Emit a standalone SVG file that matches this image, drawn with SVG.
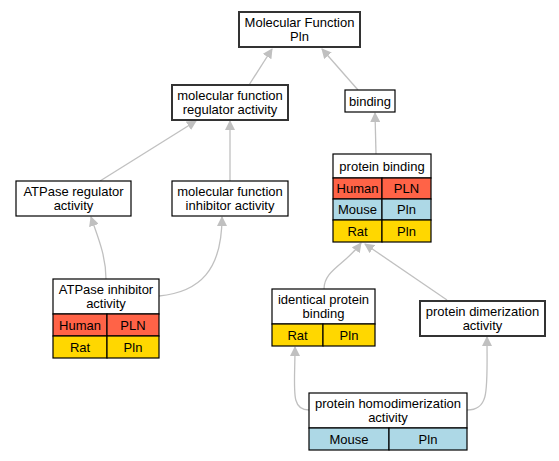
<svg xmlns="http://www.w3.org/2000/svg" width="559" height="461" viewBox="0 0 559 461">
<style>
text{font-family:"Liberation Sans",Arial,sans-serif;font-size:13px;text-anchor:middle;fill:#000}
.box{fill:#fff;stroke:#000;stroke-width:1.2}
.bold{fill:#fff;stroke:#333;stroke-width:2}
.h{fill:#ff6347;stroke:#000;stroke-width:1.2}
.m{fill:#add8e6;stroke:#000;stroke-width:1.2}
.r{fill:#ffd700;stroke:#000;stroke-width:1.2}
.e{fill:none;stroke:#c0c0c0;stroke-width:1.3}
</style>
<defs>
<marker id="a" viewBox="0 0 10 10" refX="9" refY="5" markerWidth="10" markerHeight="10" markerUnits="userSpaceOnUse" orient="auto">
<path d="M0,0 L10,5 L0,10 z" fill="#c0c0c0"/>
</marker>
</defs>
<g id="edges">
<path class="e" marker-end="url(#a)" d="M249,85 L272,49"/>
<path class="e" marker-end="url(#a)" d="M358,90 L322,49"/>
<path class="e" marker-end="url(#a)" d="M100,181 L196,121"/>
<path class="e" marker-end="url(#a)" d="M230,181 L230,121"/>
<path class="e" marker-end="url(#a)" d="M376,154 L375,113"/>
<path class="e" marker-end="url(#a)" d="M106,279 C106,255 97,235 91,217"/>
<path class="e" marker-end="url(#a)" d="M159,296 C200,292 222,270 222,217"/>
<path class="e" marker-end="url(#a)" d="M324,289 C324,270 345,265 361,243"/>
<path class="e" marker-end="url(#a)" d="M447,300 L365,244"/>
<path class="e" marker-end="url(#a)" d="M309,410 C290,410 295,390 295,347"/>
<path class="e" marker-end="url(#a)" d="M467,410 C490,410 487,390 487,337"/>
</g>
<g id="mf">
<rect class="bold" x="239" y="12" width="121" height="35"/>
<text x="299.5" y="27">Molecular Function</text>
<text x="299.5" y="41">Pln</text>
</g>
<g id="mfr">
<rect class="bold" x="172" y="85" width="116" height="35"/>
<text x="230" y="100">molecular function</text>
<text x="230" y="114">regulator activity</text>
</g>
<g id="binding">
<rect class="box" x="345" y="90" width="50" height="22"/>
<text x="370" y="105.5">binding</text>
</g>
<g id="atpr">
<rect class="box" x="16" y="181" width="115" height="35"/>
<text x="73.5" y="196">ATPase regulator</text>
<text x="73.5" y="210">activity</text>
</g>
<g id="mfi">
<rect class="box" x="172" y="181" width="116" height="35"/>
<text x="230" y="196">molecular function</text>
<text x="230" y="210">inhibitor activity</text>
</g>
<g id="pb">
<rect class="box" x="333" y="154" width="98" height="24"/>
<text x="382" y="170.5">protein binding</text>
<rect class="h" x="333" y="178" width="49" height="21"/><rect class="h" x="382" y="178" width="49" height="21"/>
<text x="357.5" y="193">Human</text><text x="406.5" y="193">PLN</text>
<rect class="m" x="333" y="199" width="49" height="21"/><rect class="m" x="382" y="199" width="49" height="21"/>
<text x="357.5" y="214">Mouse</text><text x="406.5" y="214">Pln</text>
<rect class="r" x="333" y="220" width="49" height="22"/><rect class="r" x="382" y="220" width="49" height="22"/>
<text x="357.5" y="235.5">Rat</text><text x="406.5" y="235.5">Pln</text>
</g>
<g id="atpi">
<rect class="box" x="53" y="279" width="106" height="35"/>
<text x="106" y="294">ATPase inhibitor</text>
<text x="106" y="308">activity</text>
<rect class="h" x="53" y="314" width="54" height="22"/><rect class="h" x="107" y="314" width="52" height="22"/>
<text x="80" y="329.5">Human</text><text x="133" y="329.5">PLN</text>
<rect class="r" x="53" y="336" width="54" height="22"/><rect class="r" x="107" y="336" width="52" height="22"/>
<text x="80" y="351.5">Rat</text><text x="133" y="351.5">Pln</text>
</g>
<g id="ipb">
<rect class="box" x="272" y="289" width="103" height="35"/>
<text x="323.5" y="304">identical protein</text>
<text x="323.5" y="318">binding</text>
<rect class="r" x="272" y="324" width="51" height="22"/><rect class="r" x="323" y="324" width="52" height="22"/>
<text x="297.5" y="339.5">Rat</text><text x="349" y="339.5">Pln</text>
</g>
<g id="pda">
<rect class="bold" x="420" y="301" width="125" height="35"/>
<text x="482.5" y="316">protein dimerization</text>
<text x="482.5" y="330">activity</text>
</g>
<g id="phda">
<rect class="box" x="309" y="393" width="158" height="35"/>
<text x="388" y="408">protein homodimerization</text>
<text x="388" y="422">activity</text>
<rect class="m" x="309" y="428" width="80" height="22"/><rect class="m" x="389" y="428" width="78" height="22"/>
<text x="349" y="443.5">Mouse</text><text x="428" y="443.5">Pln</text>
</g>
</svg>
